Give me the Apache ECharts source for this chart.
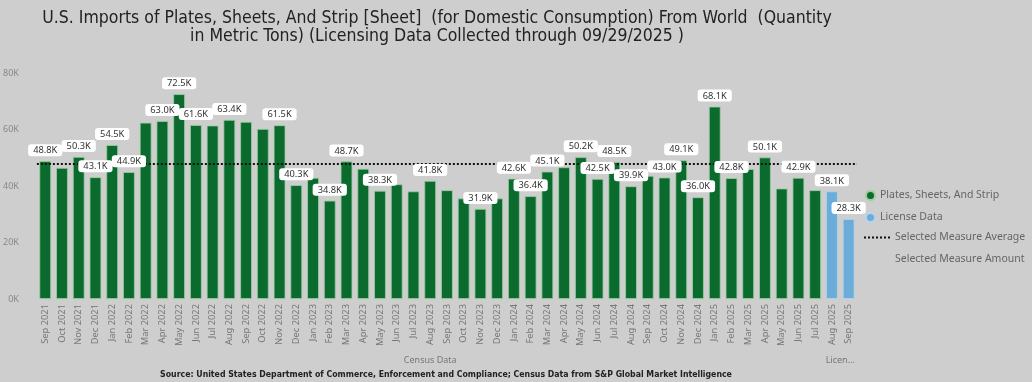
<!DOCTYPE html>
<html>
<head>
<meta charset="utf-8">
<script src="https://cdn.jsdelivr.net/npm/echarts@6/dist/echarts.min.js"></script>
<style>
html,body{margin:0;padding:0;background:#cecece;}
#chart{width:1032px;height:382px;}
</style>
</head>
<body>
<div id="chart"></div>
<script>
const months = ['Sep 2021','Oct 2021','Nov 2021','Dec 2021','Jan 2022','Feb 2022','Mar 2022','Apr 2022','May 2022','Jun 2022','Jul 2022','Aug 2022','Sep 2022','Oct 2022','Nov 2022','Dec 2022','Jan 2023','Feb 2023','Mar 2023','Apr 2023','May 2023','Jun 2023','Jul 2023','Aug 2023','Sep 2023','Oct 2023','Nov 2023','Dec 2023','Jan 2024','Feb 2024','Mar 2024','Apr 2024','May 2024','Jun 2024','Jul 2024','Aug 2024','Sep 2024','Oct 2024','Nov 2024','Dec 2024','Jan 2025','Feb 2025','Mar 2025','Apr 2025','May 2025','Jun 2025','Jul 2025','Aug 2025','Sep 2025'];
// Census data (thousand metric tons), Sep 2021 - Jul 2025
const censusValues = [48.8,46.4,50.3,43.1,54.5,44.9,62.4,63.0,72.5,61.6,61.4,63.4,62.7,60.2,61.5,40.3,42.9,34.8,48.7,46.1,38.3,40.6,38.1,41.8,38.5,35.6,31.9,35.6,42.6,36.4,45.1,46.6,50.2,42.5,48.5,39.9,43.6,43.0,49.1,36.0,68.1,42.8,46.0,50.1,39.1,42.9,38.5];
// License data, Aug 2025 - Sep 2025
const licenseValues = [38.1, 28.3];
const averageValue = 47.9;
const labeledMonths = ['Sep 2021','Nov 2021','Dec 2021','Jan 2022','Feb 2022','Apr 2022','May 2022','Jun 2022','Aug 2022','Nov 2022','Dec 2022','Feb 2023','Mar 2023','May 2023','Aug 2023','Nov 2023','Jan 2024','Feb 2024','Mar 2024','May 2024','Jun 2024','Jul 2024','Aug 2024','Oct 2024','Nov 2024','Dec 2024','Jan 2025','Feb 2025','Apr 2025','Jun 2025','Aug 2025','Sep 2025'];
const yTicks = [0, 20, 40, 60, 80];

const nC = censusValues.length;
const allValues = censusValues.concat(licenseValues);
const censusSeries = allValues.map((v, i) => i < nC ? v : '-');
const licenseSeries = allValues.map((v, i) => i >= nC ? v : '-');
const labelSeries = allValues.map((v, i) => labeledMonths.indexOf(months[i]) >= 0 ? v : '-');

const chart = echarts.init(document.getElementById('chart'), null, {renderer: 'canvas'});
const FONT = 'Noto Sans';
const legendText = {fontFamily: FONT, fontSize: 10.5, color: '#666'};
const dots = 'path://M0 0h2v2H0z M4 0h2v2H4z M8 0h2v2H8z M12 0h2v2h-2z M16 0h2v2h-2z M20 0h2v2h-2z M24 0h2v2h-2z';
const option = {
  backgroundColor: '#cecece',
  animation: false,
  title: {
    text: 'U.S. Imports of Plates, Sheets, And Strip [Sheet]  (for Domestic Consumption) From World  (Quantity\nin Metric Tons) (Licensing Data Collected through 09/29/2025 )',
    left: 437, top: 9, textAlign: 'center', padding: 0,
    textStyle: {fontFamily: '"DejaVu Sans Condensed", "DejaVu Sans"', fontSize: 17.5, fontWeight: 'normal', color: '#222', lineHeight: 18}
  },
  grid: {left: 36, right: 175, top: 73, bottom: 83, containLabel: false},
  legend: [
    {data: ['Plates, Sheets, And Strip'], left: 865, top: 190, padding: 0, icon: 'circle', itemWidth: 9, itemHeight: 9, selectedMode: false, textStyle: legendText},
    {data: ['License Data'], left: 865, top: 212, padding: 0, icon: 'circle', itemWidth: 9, itemHeight: 9, selectedMode: false, textStyle: legendText},
    {data: [{name: 'Selected Measure Average', icon: dots, itemStyle: {color: '#111', opacity: 1}}], left: 864, top: 232, padding: 0, itemWidth: 26, itemHeight: 2, selectedMode: false, textStyle: legendText},
    {data: [{name: 'Selected Measure Amount', icon: 'rect', itemStyle: {opacity: 0}}], left: 864, top: 254, padding: 0, itemWidth: 26, itemHeight: 2, selectedMode: false, textStyle: legendText}
  ],
  xAxis: {
    type: 'category', data: months,
    axisLine: {show: false}, axisTick: {show: false},
    axisLabel: {interval: 0, rotate: 90, fontFamily: FONT, fontSize: 9.3, color: '#777', margin: 5}
  },
  yAxis: {
    type: 'value', min: yTicks[0], max: yTicks[yTicks.length - 1], interval: 20,
    splitLine: {show: false}, axisLine: {show: false}, axisTick: {show: false},
    axisLabel: {formatter: '{value}K', fontFamily: FONT, fontSize: 9, color: '#888', margin: 18}
  },
  series: [
    {name: 'Plates, Sheets, And Strip', type: 'bar', data: censusSeries, barGap: '-100%', barCategoryGap: '30%', z: 2,
     itemStyle: {color: '#0b6b2e', borderColor: '#9ccf9f', borderWidth: 0.8}},
    {name: 'License Data', type: 'bar', data: licenseSeries, barGap: '-100%', barCategoryGap: '30%', z: 2,
     itemStyle: {color: '#6badd8', borderColor: '#b5d6ea', borderWidth: 0.8}},
    {name: 'Selected Measure Average', type: 'line', data: [], symbol: 'none', showSymbol: false, z: 3,
     itemStyle: {color: '#111'},
     lineStyle: {color: '#111', width: 2, type: [2, 2]},
     markLine: {silent: true, symbol: 'none', label: {show: false}, z: 5,
       lineStyle: {color: '#111', width: 2, type: [2, 2]},
       data: [{yAxis: averageValue}]}},
    {name: 'Selected Measure Amount', type: 'line', data: [], symbol: 'none', lineStyle: {opacity: 0}},
    {name: 'labels', type: 'bar', data: labelSeries, barGap: '-100%', barCategoryGap: '30%', z: 10, silent: true,
     itemStyle: {color: 'rgba(0,0,0,0)'},
     label: {show: true, position: 'top', distance: 5, formatter: p => p.value.toFixed(1) + 'K',
       fontFamily: FONT, fontSize: 9.3, color: '#333', backgroundColor: '#ffffff', borderRadius: 3, padding: [2, 5, 1, 5]}}
  ]
};
chart.setOption(option);

const cx0 = chart.convertToPixel({xAxisIndex: 0}, months[0]);
const cx1 = chart.convertToPixel({xAxisIndex: 0}, months[nC - 1]);
const lx0 = chart.convertToPixel({xAxisIndex: 0}, months[nC]);
const lx1 = chart.convertToPixel({xAxisIndex: 0}, months[months.length - 1]);
chart.setOption({
  graphic: [
    {type: 'text', x: (cx0 + cx1) / 2, y: 360, style: {text: 'Census Data', textAlign: 'center', textVerticalAlign: 'middle', font: '9px "Noto Sans"', fill: '#777'}},
    {type: 'text', x: (lx0 + lx1) / 2, y: 360, style: {text: 'Licen...', textAlign: 'center', textVerticalAlign: 'middle', font: '9px "Noto Sans"', fill: '#777'}},
    {type: 'text', x: 446, y: 375, style: {text: 'Source: United States Department of Commerce, Enforcement and Compliance; Census Data from S&P Global Market Intelligence', textAlign: 'center', textVerticalAlign: 'middle', font: 'bold 8.7px "DejaVu Sans Condensed"', fill: '#222'}}
  ]
});
</script>
</body>
</html>
